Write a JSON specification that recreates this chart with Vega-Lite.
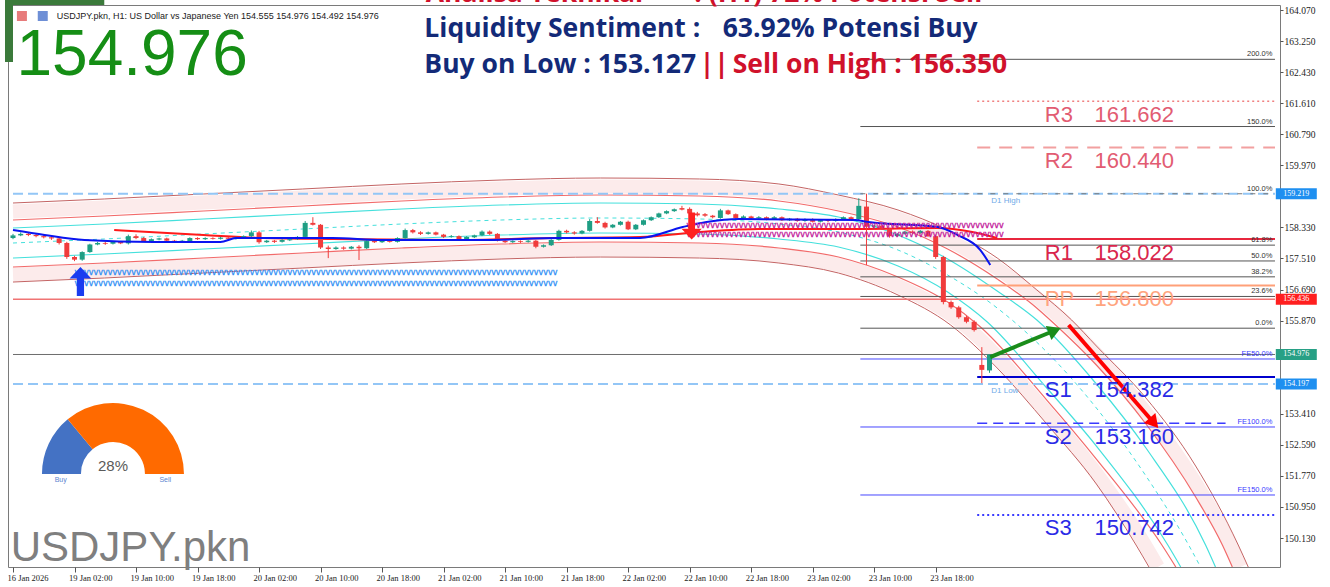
{
"$schema": "https://vega.github.io/schema/vega-lite/v6.json",
"width": 1272, "height": 562,
"autosize": {"type": "none"},
"padding": {"left": 8, "top": 5, "right": 50, "bottom": 20},
"background": "#ffffff",
"config": {"view": {"stroke": "#7a7a7a", "strokeWidth": 1}, "text": {"font": "Liberation Sans"}},
"datasets": {
"candles": [
{"i":0,"o":158.05,"h":158.16,"l":158.02,"c":158.12},{"i":1,"o":158.12,"h":158.2,"l":158.1,"c":158.16},{"i":2,"o":158.16,"h":158.19,"l":158.1,"c":158.13},{"i":3,"o":158.13,"h":158.16,"l":158.07,"c":158.1},{"i":4,"o":158.1,"h":158.13,"l":158.04,"c":158.07},{"i":5,"o":158.07,"h":158.1,"l":158.0,"c":158.04},{"i":6,"o":158.04,"h":158.06,"l":157.88,"c":157.92},{"i":7,"o":157.92,"h":157.95,"l":157.5,"c":157.55},{"i":8,"o":157.55,"h":157.58,"l":157.44,"c":157.48},{"i":9,"o":157.48,"h":157.7,"l":157.45,"c":157.68},
{"i":10,"o":157.68,"h":157.9,"l":157.66,"c":157.88},{"i":11,"o":157.88,"h":157.95,"l":157.86,"c":157.92},{"i":12,"o":157.92,"h":157.95,"l":157.87,"c":157.9},{"i":13,"o":157.9,"h":157.97,"l":157.88,"c":157.95},{"i":14,"o":157.95,"h":157.97,"l":157.89,"c":157.91},{"i":15,"o":157.91,"h":158.14,"l":157.88,"c":158.1},{"i":16,"o":158.1,"h":158.15,"l":158.02,"c":158.05},{"i":17,"o":158.05,"h":158.08,"l":157.95,"c":157.97},{"i":18,"o":157.97,"h":158.04,"l":157.95,"c":158.02},{"i":19,"o":158.01,"h":158.06,"l":157.99,"c":158.04},
{"i":20,"o":158.04,"h":158.06,"l":157.96,"c":157.98},{"i":21,"o":157.98,"h":158.0,"l":157.93,"c":157.95},{"i":22,"o":157.95,"h":158.0,"l":157.93,"c":157.98},{"i":23,"o":157.97,"h":158.07,"l":157.95,"c":158.05},{"i":24,"o":158.05,"h":158.07,"l":158.0,"c":158.02},{"i":25,"o":158.02,"h":158.07,"l":158.0,"c":158.05},{"i":26,"o":158.05,"h":158.07,"l":158.01,"c":158.03},{"i":27,"o":158.03,"h":158.08,"l":158.01,"c":158.06},{"i":28,"o":158.06,"h":158.08,"l":158.01,"c":158.03},{"i":29,"o":158.03,"h":158.09,"l":158.01,"c":158.07},
{"i":30,"o":158.07,"h":158.12,"l":158.05,"c":158.1},{"i":31,"o":158.1,"h":158.25,"l":158.08,"c":158.2},{"i":32,"o":158.2,"h":158.24,"l":157.9,"c":157.94},{"i":33,"o":157.94,"h":158.0,"l":157.92,"c":157.98},{"i":34,"o":157.98,"h":158.0,"l":157.92,"c":157.95},{"i":35,"o":157.95,"h":158.02,"l":157.93,"c":158.0},{"i":36,"o":157.99,"h":158.04,"l":157.97,"c":158.02},{"i":37,"o":158.02,"h":158.1,"l":158.0,"c":158.08},{"i":38,"o":158.08,"h":158.5,"l":158.06,"c":158.45},{"i":39,"o":158.45,"h":158.6,"l":158.38,"c":158.4},
{"i":40,"o":158.4,"h":158.42,"l":157.76,"c":157.8},{"i":41,"o":157.8,"h":157.85,"l":157.52,"c":157.76},{"i":42,"o":157.76,"h":157.83,"l":157.74,"c":157.8},{"i":43,"o":157.8,"h":157.83,"l":157.74,"c":157.77},{"i":44,"o":157.77,"h":157.84,"l":157.75,"c":157.82},{"i":45,"o":157.82,"h":157.86,"l":157.47,"c":157.78},{"i":46,"o":157.78,"h":157.99,"l":157.76,"c":157.97},{"i":47,"o":157.97,"h":158.0,"l":157.92,"c":157.94},{"i":48,"o":157.94,"h":158.0,"l":157.92,"c":157.98},{"i":49,"o":157.98,"h":158.0,"l":157.93,"c":157.95},
{"i":50,"o":157.95,"h":158.07,"l":157.93,"c":158.05},{"i":51,"o":158.05,"h":158.3,"l":158.03,"c":158.26},{"i":52,"o":158.26,"h":158.29,"l":158.17,"c":158.2},{"i":53,"o":158.2,"h":158.23,"l":158.13,"c":158.16},{"i":54,"o":158.16,"h":158.22,"l":158.14,"c":158.2},{"i":55,"o":158.2,"h":158.22,"l":158.12,"c":158.14},{"i":56,"o":158.14,"h":158.16,"l":158.05,"c":158.08},{"i":57,"o":158.08,"h":158.13,"l":158.06,"c":158.1},{"i":58,"o":158.1,"h":158.12,"l":158.0,"c":158.02},{"i":59,"o":158.02,"h":158.1,"l":158.0,"c":158.08},
{"i":60,"o":158.07,"h":158.14,"l":158.05,"c":158.12},{"i":61,"o":158.12,"h":158.25,"l":158.1,"c":158.22},{"i":62,"o":158.22,"h":158.25,"l":158.13,"c":158.16},{"i":63,"o":158.16,"h":158.18,"l":157.96,"c":157.98},{"i":64,"o":157.98,"h":158.0,"l":157.92,"c":157.94},{"i":65,"o":157.94,"h":157.99,"l":157.92,"c":157.97},{"i":66,"o":157.97,"h":157.99,"l":157.92,"c":157.95},{"i":67,"o":157.95,"h":158.0,"l":157.93,"c":157.98},{"i":68,"o":157.98,"h":158.0,"l":157.78,"c":157.82},{"i":69,"o":157.82,"h":157.88,"l":157.8,"c":157.86},
{"i":70,"o":157.86,"h":158.02,"l":157.84,"c":158.0},{"i":71,"o":158.0,"h":158.27,"l":157.98,"c":158.24},{"i":72,"o":158.24,"h":158.27,"l":158.17,"c":158.2},{"i":73,"o":158.2,"h":158.23,"l":158.14,"c":158.17},{"i":74,"o":158.17,"h":158.26,"l":158.15,"c":158.24},{"i":75,"o":158.24,"h":158.55,"l":158.22,"c":158.5},{"i":76,"o":158.5,"h":158.6,"l":158.43,"c":158.45},{"i":77,"o":158.45,"h":158.48,"l":158.3,"c":158.33},{"i":78,"o":158.33,"h":158.42,"l":158.31,"c":158.4},{"i":79,"o":158.4,"h":158.5,"l":158.38,"c":158.48},
{"i":80,"o":158.48,"h":158.51,"l":158.26,"c":158.28},{"i":81,"o":158.28,"h":158.42,"l":158.26,"c":158.4},{"i":82,"o":158.4,"h":158.54,"l":158.38,"c":158.52},{"i":83,"o":158.52,"h":158.62,"l":158.5,"c":158.6},{"i":84,"o":158.6,"h":158.72,"l":158.58,"c":158.7},{"i":85,"o":158.7,"h":158.78,"l":158.68,"c":158.76},{"i":86,"o":158.76,"h":158.83,"l":158.74,"c":158.81},{"i":87,"o":158.84,"h":158.9,"l":158.78,"c":158.8},{"i":88,"o":158.82,"h":158.86,"l":158.64,"c":158.7},{"i":89,"o":158.7,"h":158.74,"l":158.62,"c":158.65},
{"i":90,"o":158.68,"h":158.71,"l":158.61,"c":158.64},{"i":91,"o":158.64,"h":158.66,"l":158.57,"c":158.6},{"i":92,"o":158.58,"h":158.82,"l":158.56,"c":158.78},{"i":93,"o":158.78,"h":158.8,"l":158.66,"c":158.68},{"i":94,"o":158.68,"h":158.7,"l":158.56,"c":158.58},{"i":95,"o":158.58,"h":158.65,"l":158.56,"c":158.62},{"i":96,"o":158.62,"h":158.64,"l":158.54,"c":158.57},{"i":97,"o":158.57,"h":158.63,"l":158.55,"c":158.6},{"i":98,"o":158.6,"h":158.62,"l":158.52,"c":158.55},{"i":99,"o":158.55,"h":158.63,"l":158.53,"c":158.6},
{"i":100,"o":158.6,"h":158.62,"l":158.5,"c":158.52},{"i":101,"o":158.52,"h":158.58,"l":158.5,"c":158.56},{"i":102,"o":158.56,"h":158.58,"l":158.48,"c":158.5},{"i":103,"o":158.5,"h":158.57,"l":158.48,"c":158.55},{"i":104,"o":158.55,"h":158.57,"l":158.46,"c":158.48},{"i":105,"o":158.48,"h":158.55,"l":158.46,"c":158.53},{"i":106,"o":158.53,"h":158.55,"l":158.47,"c":158.5},{"i":107,"o":158.5,"h":158.57,"l":158.48,"c":158.55},{"i":108,"o":158.55,"h":158.62,"l":158.53,"c":158.6},{"i":109,"o":158.6,"h":158.62,"l":158.52,"c":158.55},
{"i":110,"o":158.55,"h":159.1,"l":158.52,"c":158.9},{"i":111,"o":158.88,"h":159.22,"l":157.34,"c":158.35},{"i":112,"o":158.35,"h":158.4,"l":158.3,"c":158.38},{"i":113,"o":158.38,"h":158.4,"l":158.27,"c":158.3},{"i":114,"o":158.3,"h":158.32,"l":158.06,"c":158.1},{"i":115,"o":158.1,"h":158.18,"l":158.08,"c":158.16},{"i":116,"o":158.16,"h":158.24,"l":158.14,"c":158.22},{"i":117,"o":158.22,"h":158.25,"l":158.15,"c":158.18},{"i":118,"o":158.18,"h":158.26,"l":158.16,"c":158.24},{"i":119,"o":158.24,"h":158.26,"l":158.08,"c":158.1},
{"i":120,"o":158.1,"h":158.14,"l":157.5,"c":157.55},{"i":121,"o":157.55,"h":157.58,"l":156.3,"c":156.36},{"i":122,"o":156.36,"h":156.4,"l":156.18,"c":156.22},{"i":123,"o":156.22,"h":156.26,"l":155.92,"c":155.96},{"i":124,"o":155.96,"h":156.0,"l":155.8,"c":155.84},{"i":125,"o":155.84,"h":155.88,"l":155.58,"c":155.62},{"i":126,"o":154.7,"h":155.17,"l":154.22,"c":154.57},{"i":127,"o":154.555,"h":154.976,"l":154.492,"c":154.976}
],
"curves": [
{"k":"UB","i":0,"p":158.975},{"k":"UB","i":11.87,"p":159.081},{"k":"UB","i":24.77,"p":159.213},{"k":"UB","i":37.68,"p":159.345},{"k":"UB","i":50.58,"p":159.477},{"k":"UB","i":63.48,"p":159.582},{"k":"UB","i":76.39,"p":159.635},{"k":"UB","i":89.29,"p":159.609},{"k":"UB","i":99.61,"p":159.477},{"k":"UB","i":107.35,"p":159.186},{"k":"UB","i":115.1,"p":158.79},{"k":"UB","i":121.55,"p":158.262},{"k":"UB","i":128.0,"p":157.523},{"k":"UB","i":133.16,"p":156.678},{"k":"UB","i":137.68,"p":155.886},{"k":"UB","i":140.9,"p":155.2},{"k":"UB","i":147.35,"p":153.827},{"k":"UB","i":153.81,"p":152.032},{"k":"UB","i":159.35,"p":149.946},{"k":"UB","i":160.65,"p":149.366},
{"k":"UR","i":0,"p":158.526},{"k":"UR","i":11.87,"p":158.632},{"k":"UR","i":24.77,"p":158.764},{"k":"UR","i":37.68,"p":158.896},{"k":"UR","i":50.58,"p":159.028},{"k":"UR","i":63.48,"p":159.133},{"k":"UR","i":76.39,"p":159.186},{"k":"UR","i":89.29,"p":159.16},{"k":"UR","i":99.61,"p":159.028},{"k":"UR","i":107.35,"p":158.764},{"k":"UR","i":115.1,"p":158.341},{"k":"UR","i":121.55,"p":157.761},{"k":"UR","i":128.0,"p":156.969},{"k":"UR","i":132.52,"p":156.309},{"k":"UR","i":135.74,"p":155.728},{"k":"UR","i":140.9,"p":154.698},{"k":"UR","i":147.35,"p":153.141},{"k":"UR","i":153.81,"p":151.214},{"k":"UR","i":157.29,"p":149.946},{"k":"UR","i":158.58,"p":149.366},
{"k":"UC","i":0,"p":158.315},{"k":"UC","i":11.87,"p":158.421},{"k":"UC","i":24.77,"p":158.553},{"k":"UC","i":37.68,"p":158.685},{"k":"UC","i":50.58,"p":158.817},{"k":"UC","i":63.48,"p":158.922},{"k":"UC","i":76.39,"p":158.975},{"k":"UC","i":89.29,"p":158.949},{"k":"UC","i":99.61,"p":158.817},{"k":"UC","i":107.35,"p":158.605},{"k":"UC","i":115.1,"p":158.13},{"k":"UC","i":121.55,"p":157.497},{"k":"UC","i":128.0,"p":156.652},{"k":"UC","i":133.16,"p":155.886},{"k":"UC","i":140.9,"p":154.197},{"k":"UC","i":147.35,"p":152.507},{"k":"UC","i":155.1,"p":149.946},{"k":"UC","i":156.39,"p":149.366},
{"k":"C","i":0,"p":157.919},{"k":"C","i":11.87,"p":158.025},{"k":"C","i":24.77,"p":158.157},{"k":"C","i":37.68,"p":158.289},{"k":"C","i":50.58,"p":158.421},{"k":"C","i":63.48,"p":158.526},{"k":"C","i":76.39,"p":158.579},{"k":"C","i":89.29,"p":158.553},{"k":"C","i":99.61,"p":158.421},{"k":"C","i":107.35,"p":158.209},{"k":"C","i":115.1,"p":157.734},{"k":"C","i":121.55,"p":157.074},{"k":"C","i":128.0,"p":156.203},{"k":"C","i":134.45,"p":155.041},{"k":"C","i":140.9,"p":153.563},{"k":"C","i":147.35,"p":151.768},{"k":"C","i":152.9,"p":149.946},{"k":"C","i":154.45,"p":149.366},
{"k":"LC","i":0,"p":157.523},{"k":"LC","i":11.87,"p":157.629},{"k":"LC","i":24.77,"p":157.761},{"k":"LC","i":37.68,"p":157.893},{"k":"LC","i":50.58,"p":158.025},{"k":"LC","i":63.48,"p":158.13},{"k":"LC","i":76.39,"p":158.183},{"k":"LC","i":89.29,"p":158.157},{"k":"LC","i":99.61,"p":158.025},{"k":"LC","i":107.35,"p":157.813},{"k":"LC","i":115.1,"p":157.312},{"k":"LC","i":121.55,"p":156.625},{"k":"LC","i":126.71,"p":155.834},{"k":"LC","i":134.45,"p":154.091},{"k":"LC","i":140.9,"p":152.56},{"k":"LC","i":150.19,"p":149.946},{"k":"LC","i":151.87,"p":149.366},
{"k":"LR","i":0,"p":157.285},{"k":"LR","i":11.87,"p":157.391},{"k":"LR","i":24.77,"p":157.523},{"k":"LR","i":37.68,"p":157.655},{"k":"LR","i":50.58,"p":157.787},{"k":"LR","i":63.48,"p":157.893},{"k":"LR","i":76.39,"p":157.945},{"k":"LR","i":89.29,"p":157.919},{"k":"LR","i":99.61,"p":157.787},{"k":"LR","i":107.35,"p":157.549},{"k":"LR","i":115.1,"p":157.021},{"k":"LR","i":121.55,"p":156.361},{"k":"LR","i":125.68,"p":155.728},{"k":"LR","i":134.45,"p":153.774},{"k":"LR","i":140.9,"p":152.217},{"k":"LR","i":149.42,"p":149.946},{"k":"LR","i":151.23,"p":149.366},
{"k":"LB","i":0,"p":156.889},{"k":"LB","i":11.87,"p":156.995},{"k":"LB","i":24.77,"p":157.127},{"k":"LB","i":37.68,"p":157.259},{"k":"LB","i":50.58,"p":157.391},{"k":"LB","i":63.48,"p":157.497},{"k":"LB","i":76.39,"p":157.549},{"k":"LB","i":89.29,"p":157.523},{"k":"LB","i":99.61,"p":157.391},{"k":"LB","i":107.35,"p":157.127},{"k":"LB","i":115.1,"p":156.546},{"k":"LB","i":121.94,"p":155.754},{"k":"LB","i":128.0,"p":154.619},{"k":"LB","i":134.45,"p":153.141},{"k":"LB","i":140.9,"p":151.557},{"k":"LB","i":146.06,"p":149.946},{"k":"LB","i":147.74,"p":149.366},
{"k":"UM","i":0,"p":158.751},{"k":"UM","i":11.87,"p":158.856},{"k":"UM","i":24.77,"p":158.988},{"k":"UM","i":37.68,"p":159.12},{"k":"UM","i":50.58,"p":159.252},{"k":"UM","i":63.48,"p":159.358},{"k":"UM","i":76.39,"p":159.411},{"k":"UM","i":89.29,"p":159.384},{"k":"UM","i":99.61,"p":159.252},{"k":"UM","i":107.35,"p":158.975},{"k":"UM","i":115.1,"p":158.566},{"k":"UM","i":121.55,"p":158.011},{"k":"UM","i":128.0,"p":157.246},{"k":"UM","i":136.52,"p":155.886},{"k":"UM","i":146.06,"p":153.774},{"k":"UM","i":153.55,"p":151.662},{"k":"UM","i":158.32,"p":149.946},{"k":"UM","i":159.61,"p":149.366},
{"k":"LM","i":0,"p":157.087},{"k":"LM","i":11.87,"p":157.193},{"k":"LM","i":24.77,"p":157.325},{"k":"LM","i":37.68,"p":157.457},{"k":"LM","i":50.58,"p":157.589},{"k":"LM","i":63.48,"p":157.695},{"k":"LM","i":76.39,"p":157.747},{"k":"LM","i":89.29,"p":157.721},{"k":"LM","i":99.61,"p":157.589},{"k":"LM","i":107.35,"p":157.338},{"k":"LM","i":115.1,"p":156.784},{"k":"LM","i":121.55,"p":156.084},{"k":"LM","i":123.87,"p":155.728},{"k":"LM","i":133.03,"p":153.774},{"k":"LM","i":141.55,"p":151.662},{"k":"LM","i":147.23,"p":149.946},{"k":"LM","i":148.9,"p":149.366},
{"k":"BM","i":0,"p":158.262},{"k":"BM","i":4.13,"p":158.13},{"k":"BM","i":9.29,"p":157.998},{"k":"BM","i":18.32,"p":157.945},{"k":"BM","i":26.97,"p":157.945},{"k":"BM","i":29.03,"p":158.051},{"k":"BM","i":41.55,"p":158.051},{"k":"BM","i":48.0,"p":157.998},{"k":"BM","i":57.03,"p":157.998},{"k":"BM","i":60.9,"p":157.998},{"k":"BM","i":71.23,"p":158.051},{"k":"BM","i":81.55,"p":158.051},{"k":"BM","i":87.1,"p":158.341},{"k":"BM","i":90.19,"p":158.473},{"k":"BM","i":94.45,"p":158.553},{"k":"BM","i":109.55,"p":158.526},{"k":"BM","i":111.23,"p":158.473},{"k":"BM","i":120.26,"p":158.341},{"k":"BM","i":122.84,"p":158.13},{"k":"BM","i":125.81,"p":157.734},{"k":"BM","i":127.1,"p":157.338},
{"k":"RM","i":13.16,"p":158.262},{"k":"RM","i":24.77,"p":158.13},{"k":"RM","i":32.52,"p":158.051},{"k":"RM","i":41.55,"p":158.025},{"k":"RM","i":57.03,"p":157.998},{"k":"RM","i":69.94,"p":158.051},{"k":"RM","i":81.55,"p":158.077},{"k":"RM","i":89.29,"p":158.209},{"k":"RM","i":97.03,"p":158.289},{"k":"RM","i":109.94,"p":158.289},{"k":"RM","i":120.26,"p":158.315},{"k":"RM","i":124.77,"p":158.209},{"k":"RM","i":128.0,"p":158.051},
{"k":"GA","i":127.1,"p":154.909},{"k":"GA","i":135.48,"p":155.609},
{"k":"RA","i":137.29,"p":155.754},{"k":"RA","i":148.39,"p":153.167}
],
"hl": [
{"k":"d1","p":159.219,"a":0,"b":164.13},{"k":"d1","p":154.197,"a":0,"b":164.13},{"k":"rh","p":156.436,"a":0,"b":164.13},{"k":"cur","p":154.976,"a":0,"b":164.13},
{"k":"fib","p":162.768,"a":110.2,"b":164.13},{"k":"fib","p":160.994,"a":110.2,"b":164.13},{"k":"fibd","p":159.219,"a":110.2,"b":164.13},{"k":"fib","p":157.863,"a":110.2,"b":164.13},{"k":"fib","p":157.445,"a":110.2,"b":164.13},{"k":"fib","p":157.026,"a":110.2,"b":164.13},{"k":"fib","p":156.508,"a":110.2,"b":164.13},{"k":"fib","p":155.67,"a":110.2,"b":164.13},
{"k":"fe","p":154.857,"a":110.2,"b":164.13},{"k":"fe","p":153.062,"a":110.2,"b":164.13},{"k":"fe","p":151.267,"a":110.2,"b":164.13},
{"k":"R3","p":161.662,"a":125.4,"b":164.13},{"k":"R2","p":160.44,"a":125.4,"b":164.13},{"k":"R1","p":158.022,"a":125.4,"b":164.13},{"k":"PP","p":156.8,"a":125.4,"b":164.13},{"k":"S1","p":154.382,"a":125.4,"b":164.13},{"k":"S2","p":153.16,"a":125.4,"b":157.7},{"k":"S3","p":150.742,"a":125.4,"b":164.13}
],
"fiblab": [{"t":"200.0%","p":162.768},{"t":"150.0%","p":160.994},{"t":"100.0%","p":159.219},{"t":"61.8%","p":157.863},{"t":"50.0%","p":157.445},{"t":"38.2%","p":157.026},{"t":"23.6%","p":156.508},{"t":"0.0%","p":155.67}],
"felab": [{"t":"FE50.0%","p":154.857},{"t":"FE100.0%","p":153.062},{"t":"FE150.0%","p":151.267}],
"piv": [{"n":"R3","v":"161.662","p":161.662},{"n":"R2","v":"160.440","p":160.44},{"n":"R1","v":"158.022","p":158.022},{"n":"PP","v":"156.800","p":156.8},{"n":"S1","v":"154.382","p":154.382},{"n":"S2","v":"153.160","p":153.16},{"n":"S3","v":"150.742","p":150.742}],
"boxes": [{"p":159.219,"t":"159.219","k":"b"},{"p":156.436,"t":"156.436","k":"r"},{"p":154.976,"t":"154.976","k":"g"},{"p":154.197,"t":"154.197","k":"b"}],
"gauge": [{"side":"Buy","v":28,"ord":1},{"side":"Sell","v":72,"ord":2}]
},
"layer": [
{"data":{"name":"curves"},"transform":[{"filter":"datum.k=='UM'"}],"mark":{"type":"line","color":"#fcebeb","strokeWidth":14,"clip":true,"interpolate":"monotone"},
 "encoding":{
  "x":{"field":"i","type":"quantitative","scale":{"domain":[0,164.13],"nice":false,"zero":false},
       "axis":{"orient":"bottom","title":"","grid":false,"domain":false,"values":[0,8,16,24,32,40,48,56,64,72,80,88,96,104,112,120],
        "labelExpr":"datum.value==0?'16 Jan 2026':datum.value==8?'19 Jan 02:00':datum.value==16?'19 Jan 10:00':datum.value==24?'19 Jan 18:00':datum.value==32?'20 Jan 02:00':datum.value==40?'20 Jan 10:00':datum.value==48?'20 Jan 18:00':datum.value==56?'21 Jan 02:00':datum.value==64?'21 Jan 10:00':datum.value==72?'21 Jan 18:00':datum.value==80?'22 Jan 02:00':datum.value==88?'22 Jan 10:00':datum.value==96?'22 Jan 18:00':datum.value==104?'23 Jan 02:00':datum.value==112?'23 Jan 10:00':'23 Jan 18:00'",
        "labelAlign":"left","labelOffset":-6,"labelPadding":1,"labelFont":"Liberation Serif","labelFontSize":8.5,"labelColor":"#222222","tickColor":"#555555","tickSize":5,"labelFlush":false,"labelOverlap":false}},
  "y":{"field":"p","type":"quantitative","scale":{"domain":[149.366,164.202],"nice":false,"zero":false},
       "axis":{"orient":"right","title":"","grid":false,"domain":false,"values":[164.07,163.25,162.43,161.61,160.79,159.97,158.33,157.51,156.69,155.87,153.41,152.59,151.77,150.95,150.13],
        "format":".3f","labelFont":"Liberation Serif","labelFontSize":9.5,"labelColor":"#222222","tickColor":"#555555","tickSize":3,"labelPadding":1,"labelOverlap":false,"labelFlush":false}}}},
{"data":{"values":[{}]},"mark":{"type":"rect","color":"#3b7a3b"},"encoding":{"x":{"datum":-1.04},"x2":{"datum":11.87},"y":{"datum":164.34},"y2":{"datum":164.2}}},
{"data":{"values":[{}]},"mark":{"type":"rect","color":"#3b7a3b"},"encoding":{"x":{"datum":-1.04},"x2":{"datum":0},"y":{"datum":164.34},"y2":{"datum":162.7}}},
{"data":{"name":"curves"},"transform":[{"filter":"datum.k=='LM'"}],"mark":{"type":"line","color":"#fcebeb","strokeWidth":14,"clip":true,"interpolate":"monotone"},"encoding":{"x":{"field":"i","type":"quantitative"},"y":{"field":"p","type":"quantitative"}}},
{"data":{"name":"curves"},"transform":[{"filter":"datum.k=='UB' || datum.k=='LB'"}],"mark":{"type":"line","color":"#c46464","strokeWidth":1,"clip":true,"interpolate":"monotone"},"encoding":{"x":{"field":"i","type":"quantitative"},"y":{"field":"p","type":"quantitative"},"detail":{"field":"k"}}},
{"data":{"name":"curves"},"transform":[{"filter":"datum.k=='UR' || datum.k=='LR'"}],"mark":{"type":"line","color":"#f26a6a","strokeWidth":1.2,"clip":true,"interpolate":"monotone"},"encoding":{"x":{"field":"i","type":"quantitative"},"y":{"field":"p","type":"quantitative"},"detail":{"field":"k"}}},
{"data":{"name":"curves"},"transform":[{"filter":"datum.k=='UC' || datum.k=='LC'"}],"mark":{"type":"line","color":"#45e0dc","strokeWidth":1.2,"clip":true,"interpolate":"monotone"},"encoding":{"x":{"field":"i","type":"quantitative"},"y":{"field":"p","type":"quantitative"},"detail":{"field":"k"}}},
{"data":{"name":"curves"},"transform":[{"filter":"datum.k=='C'"}],"mark":{"type":"line","color":"#45e0dc","strokeWidth":1,"strokeDash":[4,4],"clip":true,"interpolate":"monotone"},"encoding":{"x":{"field":"i","type":"quantitative"},"y":{"field":"p","type":"quantitative"}}},
{"data":{"name":"hl"},"transform":[{"filter":"datum.k=='d1'"}],"mark":{"type":"rule","color":"#93c6f6","strokeWidth":2,"strokeDash":[10,5]},"encoding":{"x":{"field":"a","type":"quantitative"},"x2":{"field":"b"},"y":{"field":"p","type":"quantitative"}}},
{"data":{"name":"hl"},"transform":[{"filter":"datum.k=='rh'"}],"mark":{"type":"rule","color":"#f07474","strokeWidth":1.5},"encoding":{"x":{"field":"a","type":"quantitative"},"x2":{"field":"b"},"y":{"field":"p","type":"quantitative"}}},
{"data":{"name":"hl"},"transform":[{"filter":"datum.k=='cur'"}],"mark":{"type":"rule","color":"#6e6e6e","strokeWidth":1},"encoding":{"x":{"field":"a","type":"quantitative"},"x2":{"field":"b"},"y":{"field":"p","type":"quantitative"}}},
{"data":{"name":"hl"},"transform":[{"filter":"datum.k=='fib'"}],"mark":{"type":"rule","color":"#555555","strokeWidth":1},"encoding":{"x":{"field":"a","type":"quantitative"},"x2":{"field":"b"},"y":{"field":"p","type":"quantitative"}}},
{"data":{"name":"hl"},"transform":[{"filter":"datum.k=='fibd'"}],"mark":{"type":"rule","color":"#777777","strokeWidth":1,"strokeDash":[5,8]},"encoding":{"x":{"field":"a","type":"quantitative"},"x2":{"field":"b"},"y":{"field":"p","type":"quantitative"}}},
{"data":{"name":"hl"},"transform":[{"filter":"datum.k=='fe'"}],"mark":{"type":"rule","color":"#4646ff","strokeWidth":1},"encoding":{"x":{"field":"a","type":"quantitative"},"x2":{"field":"b"},"y":{"field":"p","type":"quantitative"}}},
{"data":{"name":"hl"},"transform":[{"filter":"datum.k=='R3'"}],"mark":{"type":"rule","color":"#f08080","strokeWidth":1.5,"strokeDash":[2,3]},"encoding":{"x":{"field":"a","type":"quantitative"},"x2":{"field":"b"},"y":{"field":"p","type":"quantitative"}}},
{"data":{"name":"hl"},"transform":[{"filter":"datum.k=='R2'"}],"mark":{"type":"rule","color":"#f2a0a0","strokeWidth":2,"strokeDash":[13,9]},"encoding":{"x":{"field":"a","type":"quantitative"},"x2":{"field":"b"},"y":{"field":"p","type":"quantitative"}}},
{"data":{"name":"hl"},"transform":[{"filter":"datum.k=='R1'"}],"mark":{"type":"rule","color":"#e8263e","strokeWidth":2},"encoding":{"x":{"field":"a","type":"quantitative"},"x2":{"field":"b"},"y":{"field":"p","type":"quantitative"}}},
{"data":{"name":"hl"},"transform":[{"filter":"datum.k=='PP'"}],"mark":{"type":"rule","color":"#ffa078","strokeWidth":2},"encoding":{"x":{"field":"a","type":"quantitative"},"x2":{"field":"b"},"y":{"field":"p","type":"quantitative"}}},
{"data":{"name":"hl"},"transform":[{"filter":"datum.k=='S1'"}],"mark":{"type":"rule","color":"#0000cd","strokeWidth":2},"encoding":{"x":{"field":"a","type":"quantitative"},"x2":{"field":"b"},"y":{"field":"p","type":"quantitative"}}},
{"data":{"name":"hl"},"transform":[{"filter":"datum.k=='S2'"}],"mark":{"type":"rule","color":"#3a3aff","strokeWidth":1.5,"strokeDash":[10,6]},"encoding":{"x":{"field":"a","type":"quantitative"},"x2":{"field":"b"},"y":{"field":"p","type":"quantitative"}}},
{"data":{"name":"hl"},"transform":[{"filter":"datum.k=='S3'"}],"mark":{"type":"rule","color":"#3a3aff","strokeWidth":2,"strokeDash":[2,3]},"encoding":{"x":{"field":"a","type":"quantitative"},"x2":{"field":"b"},"y":{"field":"p","type":"quantitative"}}},
{"data":{"name":"curves"},"transform":[{"filter":"datum.k=='RM'"}],"mark":{"type":"line","color":"#ff1a1a","strokeWidth":2,"interpolate":"monotone"},"encoding":{"x":{"field":"i","type":"quantitative"},"y":{"field":"p","type":"quantitative"}}},
{"data":{"name":"candles"},"mark":{"type":"rule","strokeWidth":1},"encoding":{"x":{"field":"i","type":"quantitative"},"y":{"field":"l","type":"quantitative"},"y2":{"field":"h"},"color":{"condition":{"test":"datum.c >= datum.o","value":"#1f9e84"},"value":"#f03c3c"}}},
{"data":{"name":"candles"},"mark":{"type":"bar","size":5},"encoding":{"x":{"field":"i","type":"quantitative"},"y":{"field":"o","type":"quantitative"},"y2":{"field":"c"},"color":{"condition":{"test":"datum.c >= datum.o","value":"#1f9e84"},"value":"#f03c3c"}}},
{"data":{"name":"curves"},"transform":[{"filter":"datum.k=='BM'"}],"mark":{"type":"line","color":"#0a14f0","strokeWidth":2,"interpolate":"monotone"},"encoding":{"x":{"field":"i","type":"quantitative"},"y":{"field":"p","type":"quantitative"}}},
{"data":{"values":[{}]},"mark":{"type":"text","text":"vvvvvvvvvvvvvvvvvvvvvvvvvvvvvvvvvvvvvvvvvvvvvvvvvvvvvvvvvvvvvvvvvvvvvvvvvvvvvvvvvvvvvvvvvvvvvvvvvvvvvv","font":"DejaVu Sans","fontSize":8,"color":"#2f8ff5","stroke":"#2f8ff5","strokeWidth":0.3,"align":"left","baseline":"middle"},"encoding":{"x":{"datum":8.0},"y":{"datum":157.12}}},
{"data":{"values":[{}]},"mark":{"type":"text","text":"vvvvvvvvvvvvvvvvvvvvvvvvvvvvvvvvvvvvvvvvvvvvvvvvvvvvvvvvvvvvvvvvvvvvvvvvvvvvvvvvvvvvvvvvvvvvvvvvvvvvvv","font":"DejaVu Sans","fontSize":8,"color":"#2f8ff5","stroke":"#2f8ff5","strokeWidth":0.3,"align":"left","baseline":"middle"},"encoding":{"x":{"datum":8.0},"y":{"datum":156.835}}},
{"data":{"values":[{}]},"mark":{"type":"text","text":"vvvvvvvvvvvvvvvvvvvvvvvvvvvvvvvvvvvvvvvvvvvvvvvvvvvvvvvvvvvvvvvvvvv","font":"DejaVu Sans","fontSize":8,"color":"#c2189a","stroke":"#c2189a","strokeWidth":0.3,"align":"left","baseline":"middle"},"encoding":{"x":{"datum":87.6},"y":{"datum":158.37}}},
{"data":{"values":[{}]},"mark":{"type":"text","text":"vvvvvvvvvvvvvvvvvvvvvvvvvvvvvvvvvvvvvvvvvvvvvvvvvvvvvvvvvvvvvvvvvvv","font":"DejaVu Sans","fontSize":8,"color":"#c2189a","stroke":"#c2189a","strokeWidth":0.3,"align":"left","baseline":"middle"},"encoding":{"x":{"datum":87.6},"y":{"datum":158.13}}},
{"data":{"values":[{}]},"mark":{"type":"point","shape":"M0,-1L0.75,-0.2L0.25,-0.2L0.25,1L-0.25,1L-0.25,-0.2L-0.75,-0.2Z","size":841,"filled":true,"opacity":1,"color":"#1a3cf0"},"encoding":{"x":{"datum":8.77},"y":{"datum":156.903}}},
{"data":{"values":[{}]},"mark":{"type":"point","shape":"M0,1L0.75,0.2L0.25,0.2L0.25,-1L-0.25,-1L-0.25,0.2L-0.75,0.2Z","size":729,"filled":true,"opacity":1,"color":"#ff2020"},"encoding":{"x":{"datum":88.26},"y":{"datum":158.368}}},
{"data":{"name":"curves"},"transform":[{"filter":"datum.k=='GA'"}],"mark":{"type":"line","color":"#1a8c1a","strokeWidth":4},"encoding":{"x":{"field":"i","type":"quantitative"},"y":{"field":"p","type":"quantitative"}}},
{"data":{"name":"curves"},"transform":[{"filter":"datum.k=='GA' && datum.i > 130"}],"mark":{"type":"point","shape":"triangle-right","size":230,"filled":true,"opacity":1,"color":"#1a8c1a","angle":-22},"encoding":{"x":{"field":"i","type":"quantitative"},"y":{"field":"p","type":"quantitative"}}},
{"data":{"name":"curves"},"transform":[{"filter":"datum.k=='RA'"}],"mark":{"type":"line","color":"#ff0000","strokeWidth":4},"encoding":{"x":{"field":"i","type":"quantitative"},"y":{"field":"p","type":"quantitative"}}},
{"data":{"name":"curves"},"transform":[{"filter":"datum.k=='RA' && datum.i > 140"}],"mark":{"type":"point","shape":"triangle-right","size":230,"filled":true,"opacity":1,"color":"#ff0000","angle":49},"encoding":{"x":{"field":"i","type":"quantitative"},"y":{"field":"p","type":"quantitative"}}},
{"data":{"name":"fiblab"},"mark":{"type":"text","align":"right","baseline":"bottom","dy":-1,"fontSize":7.5,"color":"#333333"},"encoding":{"x":{"datum":163.8},"y":{"field":"p","type":"quantitative"},"text":{"field":"t"}}},
{"data":{"name":"felab"},"mark":{"type":"text","align":"right","baseline":"bottom","dy":-1,"fontSize":7.5,"color":"#3a3aff"},"encoding":{"x":{"datum":163.8},"y":{"field":"p","type":"quantitative"},"text":{"field":"t"}}},
{"data":{"name":"piv"},"mark":{"type":"text","align":"left","baseline":"alphabetic","dy":20.5,"fontSize":22},"encoding":{"x":{"datum":134.19},"y":{"field":"p","type":"quantitative"},"text":{"field":"n"},"color":{"condition":[{"test":"datum.n[0]=='S'","value":"#2a2ae6"},{"test":"datum.n=='PP'","value":"#ffa47e"},{"test":"datum.n=='R1'","value":"#d9254c"}],"value":"#e25c72"}}},
{"data":{"name":"piv"},"mark":{"type":"text","align":"left","baseline":"alphabetic","dy":20.5,"fontSize":22},"encoding":{"x":{"datum":140.65},"y":{"field":"p","type":"quantitative"},"text":{"field":"v"},"color":{"condition":[{"test":"datum.n[0]=='S'","value":"#2a2ae6"},{"test":"datum.n=='PP'","value":"#ffa47e"},{"test":"datum.n=='R1'","value":"#d9254c"}],"value":"#e25c72"}}},
{"data":{"values":[{}]},"mark":{"type":"text","text":"D1 High","fontSize":8,"color":"#6faae8","align":"left","baseline":"middle"},"encoding":{"x":{"datum":127.23},"y":{"datum":159.028}}},
{"data":{"values":[{}]},"mark":{"type":"text","text":"D1 Low","fontSize":8,"color":"#6faae8","align":"left","baseline":"middle"},"encoding":{"x":{"datum":127.23},"y":{"datum":154.012}}},
{"data":{"name":"boxes"},"mark":{"type":"point","shape":"M-1,-0.27L1,-0.27L1,0.27L-1,0.27Z","size":1681,"filled":true,"opacity":1,"strokeWidth":0},"encoding":{"x":{"datum":166.9},"y":{"field":"p","type":"quantitative"},"color":{"condition":[{"test":"datum.k=='r'","value":"#ff1f1f"},{"test":"datum.k=='g'","value":"#27a085"}],"value":"#1e8ff0"}}},
{"data":{"name":"boxes"},"mark":{"type":"text","align":"center","baseline":"middle","fontSize":8,"color":"#ffffff","font":"Liberation Serif"},"encoding":{"x":{"datum":166.9},"y":{"field":"p","type":"quantitative"},"text":{"field":"t"}}},
{"data":{"name":"gauge"},"mark":{"type":"arc","outerRadius":71,"innerRadius":32},"encoding":{"x":{"datum":13.0},"y":{"datum":151.821},"theta":{"field":"v","type":"quantitative","stack":true,"scale":{"domain":[0,100],"range":[-1.5708,1.5708]}},"order":{"field":"ord"},"color":{"condition":{"test":"datum.side=='Buy'","value":"#4472c4"},"value":"#ff6a00"}}},
{"data":{"values":[{}]},"mark":{"type":"text","text":"28%","fontSize":15,"color":"#5a5a5a","align":"center","baseline":"middle"},"encoding":{"x":{"datum":13.0},"y":{"datum":152.032}}},
{"data":{"values":[{}]},"mark":{"type":"text","text":"Buy","fontSize":7,"color":"#5b86d0","align":"center","baseline":"middle"},"encoding":{"x":{"datum":6.2},"y":{"datum":151.662}}},
{"data":{"values":[{}]},"mark":{"type":"text","text":"Sell","fontSize":7,"color":"#5b86d0","align":"center","baseline":"middle"},"encoding":{"x":{"datum":19.8},"y":{"datum":151.662}}},
{"data":{"values":[{}]},"mark":{"type":"point","shape":"square","size":100,"filled":true,"opacity":1,"color":"#e77b7b"},"encoding":{"x":{"datum":1.16},"y":{"datum":163.912}}},
{"data":{"values":[{}]},"mark":{"type":"point","shape":"square","size":100,"filled":true,"opacity":1,"color":"#6e8fd6"},"encoding":{"x":{"datum":3.87},"y":{"datum":163.912}}},
{"data":{"values":[{}]},"mark":{"type":"text","text":"154.976","fontSize":64,"color":"#158e15","align":"left","baseline":"alphabetic"},"encoding":{"x":{"datum":0.45},"y":{"datum":162.354}}},
{"data":{"values":[{}]},"mark":{"type":"text","text":"USDJPY.pkn","fontSize":42,"color":"#7f7f7f","align":"left","baseline":"alphabetic"},"encoding":{"x":{"datum":-0.3},"y":{"datum":149.524}}},
{"data":{"values":[{}]},"mark":{"type":"text","text":"USDJPY.pkn, H1:  US Dollar vs Japanese Yen  154.555 154.976 154.492 154.976","fontSize":9,"color":"#222222","align":"left","baseline":"alphabetic"},"encoding":{"x":{"datum":5.68},"y":{"datum":163.832}}},
{"data":{"values":[{}]},"mark":{"type":"text","text":"Analisa Teknikal","font":"Open Sans","fontWeight":"bold","fontSize":26.5,"color":"#d0112b","align":"left","baseline":"alphabetic"},"encoding":{"x":{"datum":53.68},"y":{"datum":164.285}}},
{"data":{"values":[{}]},"mark":{"type":"text","text":": (H1) 72% Potensi Sell","font":"Open Sans","fontWeight":"bold","fontSize":26.5,"color":"#d0112b","align":"right","baseline":"alphabetic"},"encoding":{"x":{"datum":126.06},"y":{"datum":164.285}}},
{"data":{"values":[{}]},"mark":{"type":"text","text":"Liquidity Sentiment :","font":"Open Sans","fontWeight":"bold","fontSize":26.5,"color":"#132a78","align":"left","baseline":"alphabetic"},"encoding":{"x":{"datum":53.5},"y":{"datum":163.357}}},
{"data":{"values":[{}]},"mark":{"type":"text","text":"63.92% Potensi Buy","font":"Open Sans","fontWeight":"bold","fontSize":26.5,"color":"#132a78","align":"left","baseline":"alphabetic"},"encoding":{"x":{"datum":92.3},"y":{"datum":163.357}}},
{"data":{"values":[{}]},"mark":{"type":"text","text":"Buy on Low : 153.127","font":"Open Sans","fontWeight":"bold","fontSize":26.5,"color":"#132a78","align":"left","baseline":"alphabetic"},"encoding":{"x":{"datum":53.5},"y":{"datum":162.407}}},
{"data":{"values":[{}]},"mark":{"type":"text","text":"||","font":"Open Sans","fontWeight":"bold","fontSize":26.5,"color":"#d0112b","align":"left","baseline":"alphabetic"},"encoding":{"x":{"datum":89.3},"y":{"datum":162.407}}},
{"data":{"values":[{}]},"mark":{"type":"text","text":"Sell on High : 156.350","font":"Open Sans","fontWeight":"bold","fontSize":26.5,"color":"#d0112b","align":"left","baseline":"alphabetic"},"encoding":{"x":{"datum":93.6},"y":{"datum":162.407}}}
]
}
